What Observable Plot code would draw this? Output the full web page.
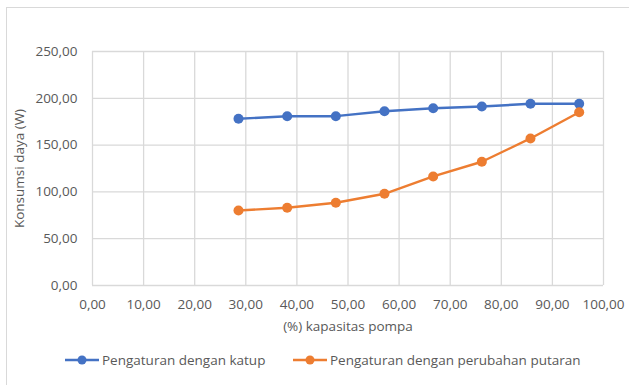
<!DOCTYPE html>
<html>
<head>
<meta charset="utf-8">
<script src="https://cdn.jsdelivr.net/npm/d3@7"></script>
<script src="https://cdn.jsdelivr.net/npm/@observablehq/plot@0.6"></script>
<style>
  html, body { margin: 0; padding: 0; background: #fff; }
  #wrap { position: relative; width: 629px; height: 385px; overflow: hidden; font-family: "Open Sans", sans-serif; }
  #frame { position: absolute; left: 6px; top: 7px; width: 640px; height: 400px; border-left: 1px solid #d9d9d9; border-top: 1px solid #d9d9d9; box-sizing: border-box; }
  #chart { position: absolute; left: 0; top: 0; }
  .item { position: absolute; top: 351px; display: flex; align-items: center; font-size: 13.5px; color: #595959; white-space: nowrap; }
  .item svg { display: block; margin-right: 3px; }
</style>
</head>
<body>
<div id="wrap">
  <div id="frame"></div>
  <div id="chart"></div>
  <div id="legend"></div>
</div>
<script>
// Pump capacity (%) at each measured operating point
const capacity = [28.57, 38.10, 47.62, 57.14, 66.67, 76.19, 85.71, 95.24];
// Power consumption (W), throttling with a valve
const katup = [178.1, 180.9, 180.9, 186.2, 189.4, 191.2, 194.1, 194.1];
// Power consumption (W), speed control
const putaran = [80.1, 83.0, 88.4, 98.0, 116.5, 132.2, 157.1, 185.1];

const seriesNames = ["Pengaturan dengan katup", "Pengaturan dengan perubahan putaran"];
const seriesColors = ["#4472C4", "#ED7D31"];

const xTicks = d3.range(0, 101, 10);
const yTicks = d3.range(0, 251, 50);

const fmt = d => d3.format(".2f")(d).replace(".", ",");

const rows = [
  ...capacity.map((x, i) => ({x, y: katup[i], s: seriesNames[0]})),
  ...capacity.map((x, i) => ({x, y: putaran[i], s: seriesNames[1]}))
];

const chart = Plot.plot({
  width: 629,
  height: 345,
  marginLeft: 92,
  marginRight: 26,
  marginTop: 51,
  marginBottom: 60,
  style: {fontFamily: "Open Sans, sans-serif", fontSize: "13.5px", color: "#595959", background: "transparent"},
  x: {domain: [0, 100], ticks: xTicks, tickFormat: fmt, label: null, tickSize: 0, tickPadding: 14},
  y: {domain: [0, 250], ticks: yTicks, tickFormat: fmt, label: null, tickSize: 0, tickPadding: 15},
  color: {domain: seriesNames, range: seriesColors},
  marks: [
    Plot.gridX(xTicks, {stroke: "#d9d9d9", strokeOpacity: 1, strokeWidth: 1.3}),
    Plot.gridY(yTicks, {stroke: "#d9d9d9", strokeOpacity: 1, strokeWidth: 1.3}),
    Plot.axisX({ticks: xTicks, tickFormat: fmt, tickSize: 0, tickPadding: 14, label: null}),
    Plot.axisY({ticks: yTicks, tickFormat: fmt, tickSize: 0, tickPadding: 15, label: null}),
    Plot.line(rows, {x: "x", y: "y", z: "s", stroke: "s", strokeWidth: 2.4}),
    Plot.dot(rows, {x: "x", y: "y", fill: "s", r: 5, stroke: null}),
    Plot.text(["Konsumsi daya (W)"], {frameAnchor: "left", textAnchor: "middle", dx: -73, rotate: -90, fill: "#595959", fontSize: 13.5}),
    Plot.text(["(%) kapasitas pompa"], {frameAnchor: "bottom", dy: 45, fill: "#595959", fontSize: 13.5})
  ]
});
document.getElementById("chart").append(chart);

// Legend below the chart
const legend = document.getElementById("legend");
const legendLeft = [65, 293];
seriesNames.forEach((name, i) => {
  const item = document.createElement("div");
  item.className = "item";
  item.style.left = legendLeft[i] + "px";
  item.innerHTML = `<svg width="34" height="12"><line x1="0" x2="34" y1="6" y2="6" stroke="${seriesColors[i]}" stroke-width="2.4"/><circle cx="17" cy="6" r="4.5" fill="${seriesColors[i]}"/></svg><span>${name}</span>`;
  legend.append(item);
});
</script>
</body>
</html>
